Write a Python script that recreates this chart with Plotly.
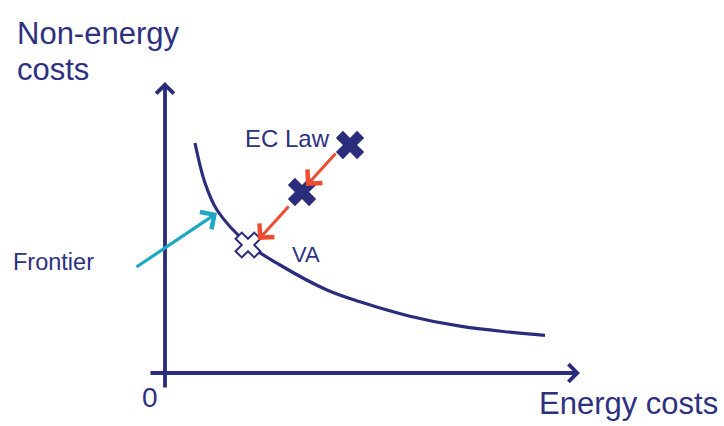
import plotly.graph_objects as go

# ---- data (conceptual units: energy costs vs non-energy costs) ----
frontier_x = [0.75, 1.0, 1.3, 2.075, 2.875, 4.05, 4.875, 6.125, 7.375, 8.625, 9.5]
frontier_y = [5.75, 4.75, 4.075, 3.225, 2.7, 2.075, 1.78, 1.42, 1.17, 1.02, 0.94]

ec_points_x = [4.625, 3.425]      # EC Law and intermediate step
ec_points_y = [5.7, 4.525]
va_x = [2.075]
va_y = [3.2]

# arrows: (tail_x, tail_y, head_x, head_y)
red_arrows = [(4.3, 5.525, 3.525, 4.675), (3.125, 4.2, 2.325, 3.325)]
frontier_arrow = (-0.75, 2.625, 1.3, 4.0)
x_axis_arrow = (-0.4, 0.0, 10.375, 0.0)
y_axis_arrow = (0.0, -0.4, 0.0, 7.275)

NAVY = "#2b2c7c"
TEXT = "#2e3180"
RED = "#ef4b2e"
CYAN = "#1ea8c6"
FONT = "Arial, Liberation Sans, sans-serif"

fig = go.Figure()

fig.add_trace(go.Scatter(x=frontier_x, y=frontier_y, mode="lines",
                         line=dict(color=NAVY, width=3.2, shape="spline", smoothing=1.0),
                         hoverinfo="skip", showlegend=False))

annotations = []

def arrow(t, color, width, size):
    tx, ty, hx, hy = t
    return dict(x=hx, y=hy, ax=tx, ay=ty, xref="x", yref="y", axref="x", ayref="y",
                text="", showarrow=True, arrowhead=4, arrowsize=size, arrowwidth=width,
                arrowcolor=color, standoff=0, startstandoff=0)

annotations.append(arrow(x_axis_arrow, NAVY, 3.8, 0.9))
annotations.append(arrow(y_axis_arrow, NAVY, 3.8, 0.9))
for a in red_arrows:
    annotations.append(arrow(a, RED, 3, 1.3))
annotations.append(arrow(frontier_arrow, CYAN, 3.2, 1.25))

fig.add_trace(go.Scatter(x=ec_points_x, y=ec_points_y, mode="markers",
                         marker=dict(symbol="x", size=25, color=NAVY,
                                     line=dict(width=0)),
                         hoverinfo="skip", showlegend=False))
fig.add_trace(go.Scatter(x=va_x, y=va_y, mode="markers",
                         marker=dict(symbol="x", size=22, color="white",
                                     line=dict(width=2, color=NAVY)),
                         hoverinfo="skip", showlegend=False))

def label(text, x, y, size, xanchor="center"):
    return dict(x=x, y=y, xref="x", yref="y", text=text, showarrow=False,
                xanchor=xanchor, yanchor="middle",
                font=dict(family=FONT, size=size, color=TEXT))

annotations += [
    label("Non-energy", -3.75, 8.5, 31, "left"),
    label("costs", -3.75, 7.6, 31, "left"),
    label("Energy costs", 11.575, -0.75, 31),
    label("0", -0.375, -0.6, 28),
    label("Frontier", -2.8, 2.775, 23.5),
    label("VA", 3.125, 2.975, 22, "left"),
    label("EC Law", 1.95, 5.875, 24, "left"),
]

fig.update_layout(
    width=724, height=426,
    margin=dict(l=0, r=0, t=0, b=0),
    paper_bgcolor="white", plot_bgcolor="white",
    xaxis=dict(range=[-4.125, 13.975], visible=False, fixedrange=True),
    yaxis=dict(range=[-1.325, 9.325], visible=False, fixedrange=True),
    annotations=annotations,
    showlegend=False,
)

fig.write_html("out.html", config={"displayModeBar": False},
               post_script="document.body.style.margin='0';document.body.style.overflow='hidden';")
